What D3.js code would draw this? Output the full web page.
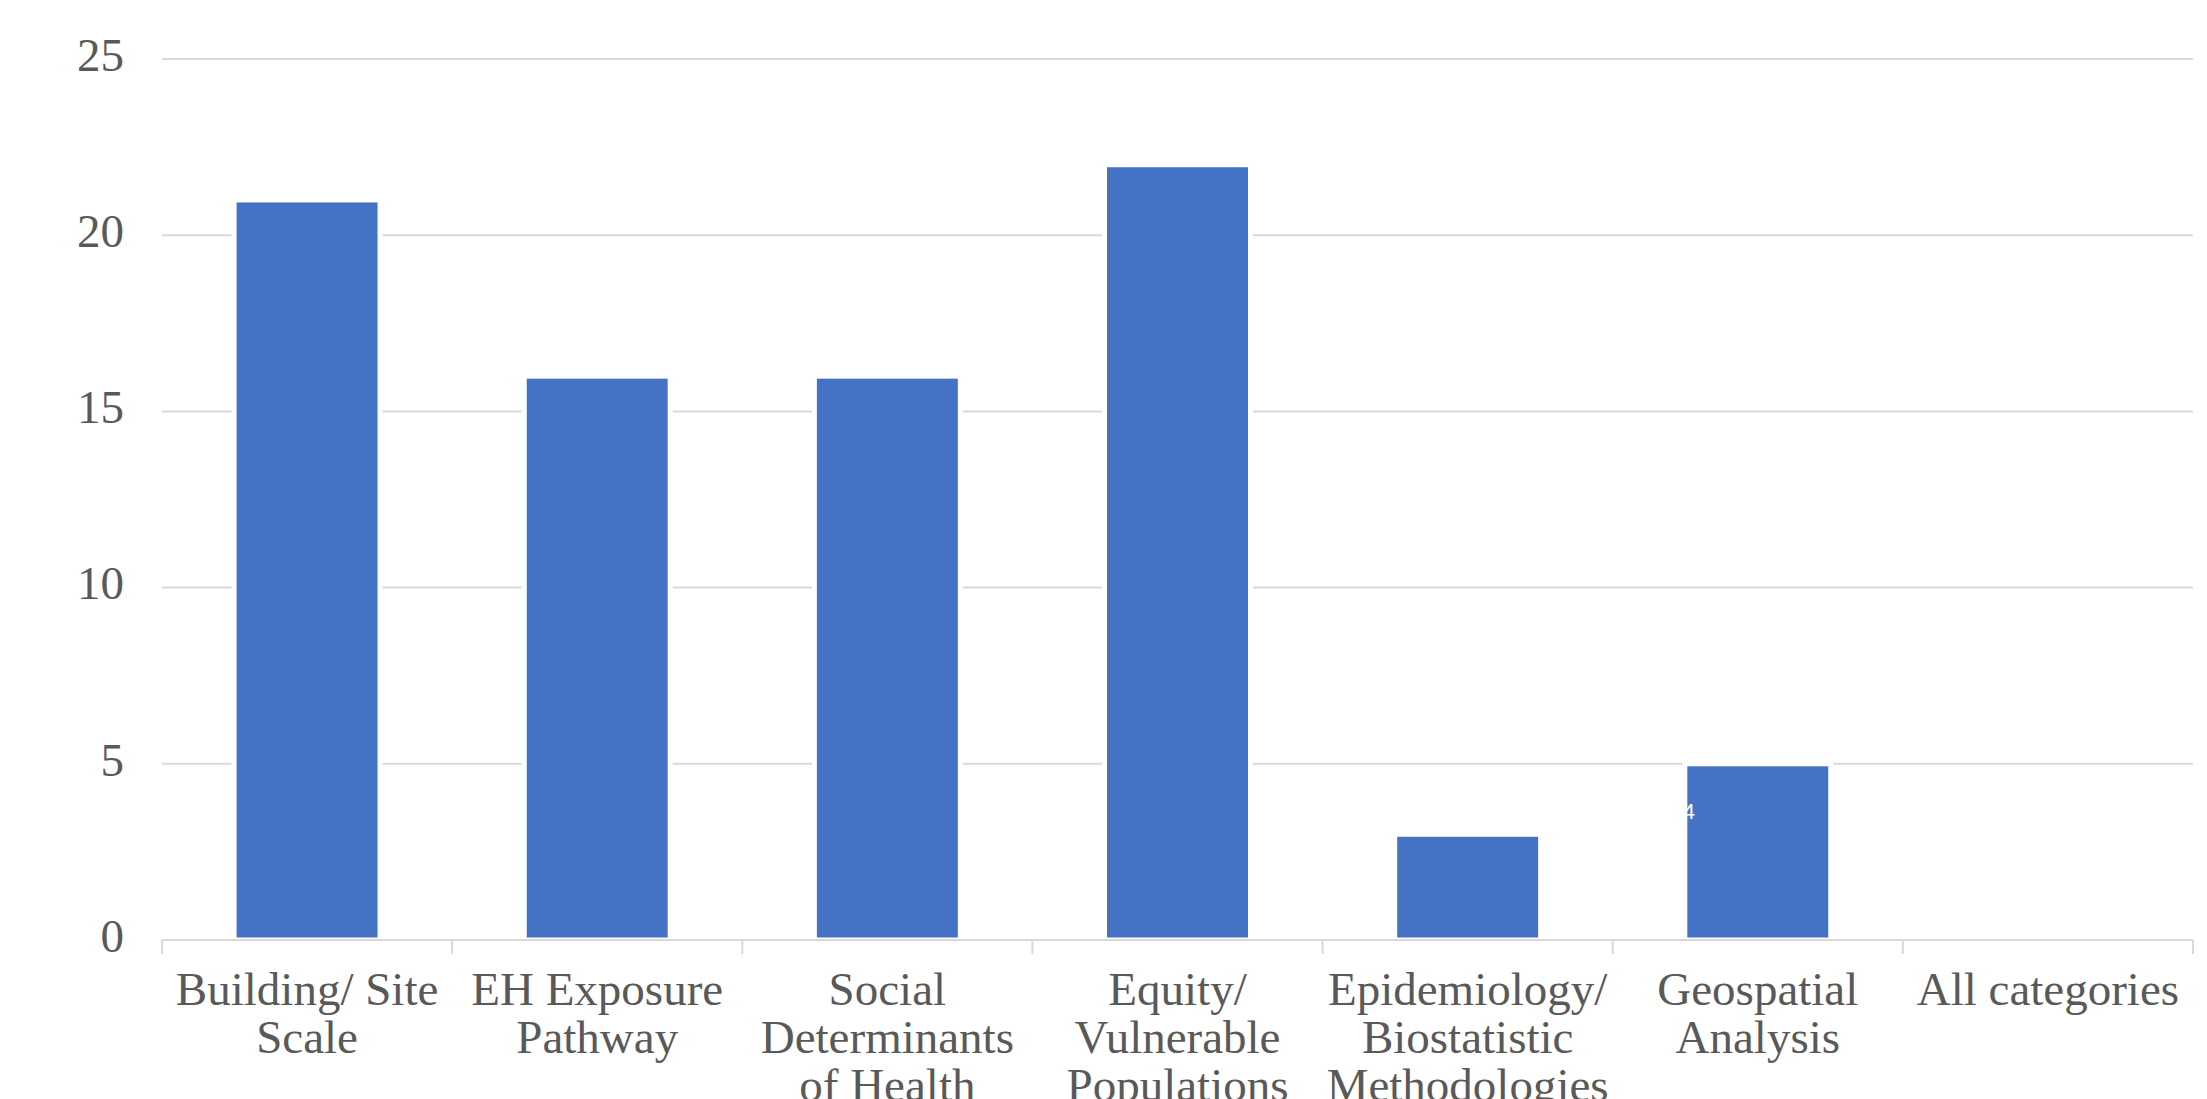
<!DOCTYPE html>
<html>
<head>
<meta charset="utf-8">
<script src="https://cdn.jsdelivr.net/npm/d3@7"></script>
<style>
  body { margin: 0; background: #fff; }
  svg { display: block; }
</style>
</head>
<body>
<div id="chart"></div>
<script>
// category labels, already split into lines as in the picture
const categories = [
  "Building/ Site Scale",
  "EH Exposure Pathway",
  "Social Determinants of Health",
  "Equity/ Vulnerable Populations",
  "Epidemiology/ Biostatistic Methodologies",
  "Geospatial Analysis",
  "All categories"
];
const labelLines = [
  ["Building/ Site", "Scale"],
  ["EH Exposure", "Pathway"],
  ["Social", "Determinants", "of Health"],
  ["Equity/", "Vulnerable", "Populations"],
  ["Epidemiology/", "Biostatistic", "Methodologies"],
  ["Geospatial", "Analysis"],
  ["All categories"]
];
const counts = [21, 16, 16, 22, 3, 5, 0];
const yTicks = [0, 5, 10, 15, 20, 25];
// stray data label seen on the Geospatial bar
const strayLabel = { category: "Geospatial Analysis", text: "4", value: 3.6 };

const W = 2207, H = 1099;
const margin = { top: 59, right: 14, bottom: 159, left: 162 };

const svg = d3.select("#chart").append("svg")
  .attr("width", W)
  .attr("height", H);

const x = d3.scaleBand()
  .domain(categories)
  .range([margin.left, W - margin.right])
  .paddingInner(0.497)
  .paddingOuter(0.2485);

const y = d3.scaleLinear()
  .domain([0, 25])
  .range([H - margin.bottom, margin.top]);

const font = "'Liberation Serif', 'Times New Roman', serif";
const textColor = "#595959";
const gridColor = "#d9d9d9";

// gridlines
svg.append("g")
  .selectAll("line")
  .data(yTicks.filter(d => d > 0))
  .join("line")
  .attr("x1", margin.left)
  .attr("x2", W - margin.right)
  .attr("y1", d => y(d))
  .attr("y2", d => y(d))
  .attr("stroke", gridColor)
  .attr("stroke-width", 2);

// y tick labels
svg.append("g")
  .selectAll("text")
  .data(yTicks)
  .join("text")
  .attr("x", 124)
  .attr("y", d => y(d) + 1)
  .attr("text-anchor", "end")
  .attr("dominant-baseline", "middle")
  .attr("font-family", font)
  .attr("font-size", 47)
  .attr("fill", textColor)
  .text(d => d);

// bars
svg.append("g")
  .selectAll("rect")
  .data(categories.map((c, i) => ({ c, v: counts[i] })).filter(d => d.v > 0))
  .join("rect")
  .attr("x", d => x(d.c))
  .attr("y", d => y(d.v))
  .attr("width", x.bandwidth())
  .attr("height", d => y(0) - y(d.v))
  .attr("fill", "#4472c4")
  .attr("stroke", "#fff")
  .attr("stroke-width", 5);

// x axis line and ticks
const step = x.step();
const bounds = d3.range(categories.length + 1).map(i => margin.left + i * step);
svg.append("line")
  .attr("x1", margin.left)
  .attr("x2", W - margin.right)
  .attr("y1", y(0))
  .attr("y2", y(0))
  .attr("stroke", gridColor)
  .attr("stroke-width", 2);
svg.append("g")
  .selectAll("line")
  .data(bounds)
  .join("line")
  .attr("x1", d => d)
  .attr("x2", d => d)
  .attr("y1", y(0))
  .attr("y2", y(0) + 14)
  .attr("stroke", gridColor)
  .attr("stroke-width", 2);

// category labels
const lab = svg.append("g")
  .selectAll("text")
  .data(categories)
  .join("text")
  .attr("text-anchor", "middle")
  .attr("font-family", font)
  .attr("font-size", 47)
  .attr("fill", textColor)
  .attr("transform", d => `translate(${x(d) + x.bandwidth() / 2},1005)`);
lab.selectAll("tspan")
  .data((d, i) => labelLines[i])
  .join("tspan")
  .attr("x", 0)
  .attr("y", (d, i) => i * 48)
  .text(d => d);

// stray small white label
svg.append("text")
  .attr("x", x(strayLabel.category) - 2)
  .attr("y", y(strayLabel.value))
  .attr("dominant-baseline", "middle")
  .attr("font-family", "'Liberation Sans', Arial, sans-serif")
  .attr("font-size", 22)
  .attr("fill", "#fff")
  .text(strayLabel.text);
</script>
</body>
</html>
